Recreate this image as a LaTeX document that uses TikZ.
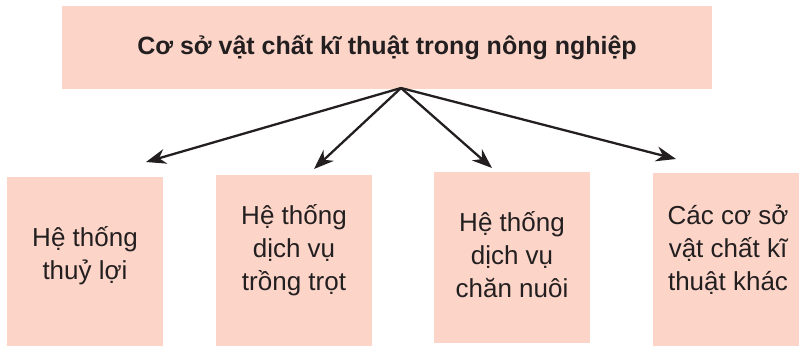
\documentclass[tikz,border=0pt]{standalone}
\usepackage{fontspec}
\setmainfont{Liberation Sans}
\usepackage{xcolor}
\definecolor{boxpink}{RGB}{252,213,200}
\definecolor{inkgray}{RGB}{35,31,32}
\usetikzlibrary{positioning, arrows.meta}

\begin{document}
\begin{tikzpicture}[
    % GLOBAL CFG
    x=1pt, y=-1pt,
    >={Stealth[length=20pt,width=15pt]},
    % Styles
    headbox/.style={% For the main box
        rectangle,
        fill=boxpink,
        text=inkgray,
        inner sep=0pt,
        minimum width=650pt,
        minimum height=83pt,
        font=\bfseries\fontsize{25}{30}\selectfont,
        },
    itembox/.style={% For the four boxes below
        rectangle,
        fill=boxpink,
        text=inkgray,
        inner sep=0pt,
        minimum width=156pt,
        align=center,
        font=\fontsize{26}{33}\selectfont,
        },
    ArrowC1/.style={% Arrows from the main box
        ->,
        draw=inkgray,
        line width=2.3pt,
        },
    ]

    \useasboundingbox (0,0) rectangle (799,346);

    % Draw the main box
    \node [headbox] (head) at (387,47.5) {Cơ sở vật chất kĩ thuật trong nông nghiệp};
    \coordinate (root) at (401,88);

    % Draw the boxes below named item#
    \node [itembox, minimum height=169pt] (item1) at (85,261.5) {};
    \node [itembox, minimum height=171pt] (item2) at (294,260.5) {};
    \node [itembox, minimum height=171pt] (item3) at (512,257.5) {};
    \node [itembox, minimum width=146pt, minimum height=173pt] (item4) at (726,259.5) {};

    % Texts of the boxes
    \node [itembox, fill=none] (text1) at (85,256) {Hệ thống\\thuỷ lợi};
    \node [itembox, fill=none] (text2) at (294,250) {Hệ thống\\dịch vụ\\trồng trọt};
    \node [itembox, fill=none] (text3) at (512,255) {Hệ thống\\dịch vụ\\chăn nuôi};
    \node [itembox, fill=none] (text4) at (728,250) {Các cơ sở\\vật chất kĩ\\thuật khác};

    % Arrow ends
    \coordinate (tip1) at (146,162);
    \coordinate (tip2) at (314,169);
    \coordinate (tip3) at (492,168);
    \coordinate (tip4) at (676,159);

    % Drawing arrows
    \draw [ArrowC1] (root) -- (tip1);
    \draw [ArrowC1] (root) -- (tip2);
    \draw [ArrowC1] (root) -- (tip3);
    \draw [ArrowC1] (root) -- (tip4);

\end{tikzpicture}
\end{document}
